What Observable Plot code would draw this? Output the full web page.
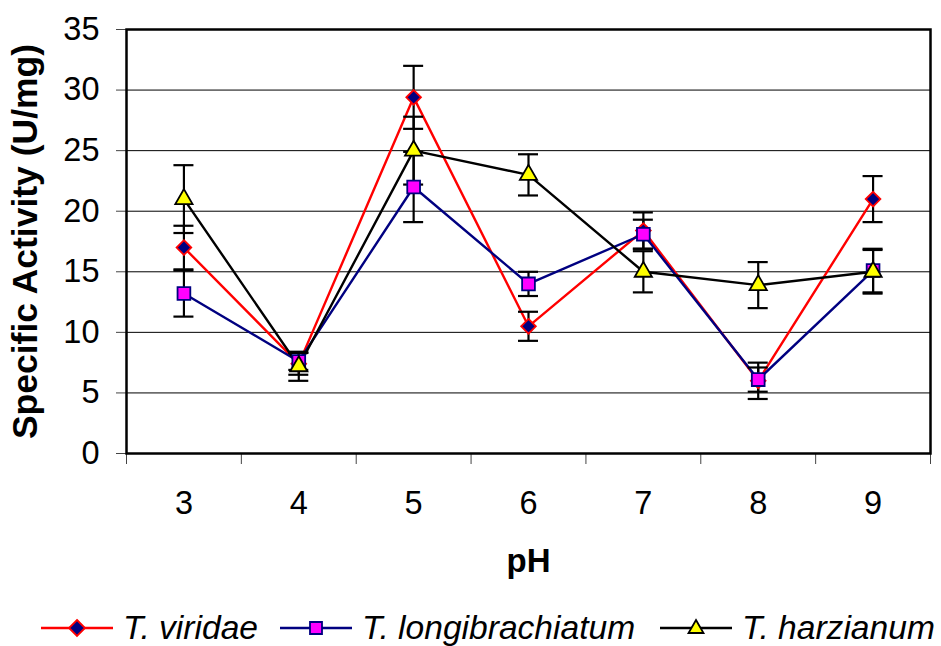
<!DOCTYPE html>
<html>
<head>
<meta charset="utf-8">
<script src="https://cdn.jsdelivr.net/npm/d3@7"></script>
<script src="https://cdn.jsdelivr.net/npm/@observablehq/plot@0.6"></script>
<style>
  html, body { margin: 0; padding: 0; background: #fff; }
  body { width: 941px; height: 646px; overflow: hidden; font-family: "Liberation Sans", Arial, sans-serif; }
  #chart svg { display: block; }
  #legend { position: relative; height: 46px; }
  .item { position: absolute; top: 8px; height: 40px; display: flex; align-items: center; }
  .item span { font-style: italic; font-size: 33.6px; color: #000; margin-left: 10px; white-space: nowrap; }
</style>
</head>
<body>
<div id="chart"></div>
<div id="legend"></div>
<script>
// ---- data ----
const phs = [3, 4, 5, 6, 7, 8, 9];
const yTicks = [0, 5, 10, 15, 20, 25, 30, 35];

const viridae    = [17.0, 7.4, 29.4, 10.5, 18.4, 6.0, 21.0];
const viridaeErr = [1.8, 0.9, 2.6, 1.2, 1.5, 1.5, 1.9];

const longi    = [13.2, 7.6, 22.0, 14.0, 18.1, 6.1, 15.1];
const longiErr = [1.9, 0.7, 2.9, 1.0, 1.2, 1.0, 1.8];

const harz    = [21.0, 7.2, 25.0, 23.0, 15.0, 13.9, 15.0];
const harzErr = [2.8, 1.2, 2.8, 1.7, 1.7, 1.9, 1.8];

const seriesNames = ["T. viridae", "T. longibrachiatum", "T. harzianum"];

// ---- styles ----
const styles = [
  {values: viridae, err: viridaeErr, line: "#ff0000", fill: "#000080", mstroke: "#ff0000", symbol: "diamond2", r: 6.6},
  {values: longi,   err: longiErr,   line: "#000080", fill: "#ff00ff", mstroke: "#000080", symbol: "square",   r: 7.2},
  {values: harz,    err: harzErr,    line: "#000000", fill: "#ffff00", mstroke: "#000000", symbol: "triangle", r: 6.4}
];

const bounds = phs.map(p => p - 0.5).concat([phs[phs.length - 1] + 0.5]);

const seriesRows = styles.map((s, k) =>
  phs.map((ph, i) => ({series: seriesNames[k], ph, v: s.values[i], e: s.err[i]}))
);

const marks = [
  Plot.ruleY(yTicks.slice(1, -1), {stroke: "#000", strokeWidth: 1}),
  Plot.axisY({ticks: yTicks, tickSize: 10, tickPadding: 17, fontSize: 32.5, label: null, stroke: "#444", tickFormat: d => String(d)}),
  Plot.axisX({ticks: phs, tickSize: 0, tickPadding: 37, fontSize: 32.5, label: null, tickFormat: d => String(d)}),
  Plot.axisX({ticks: bounds, tickSize: 11, tickFormat: () => "", label: null, stroke: "#444"})
];

// lines
seriesRows.forEach((rows, k) => {
  marks.push(Plot.lineY(rows, {x: "ph", y: "v", stroke: styles[k].line, strokeWidth: 2.4}));
});
// error bars
seriesRows.forEach((rows) => {
  marks.push(Plot.ruleX(rows, {x: "ph", y1: d => d.v - d.e, y2: d => d.v + d.e, stroke: "#000", strokeWidth: 2.2}));
  marks.push(Plot.ruleY(rows, {x1: "ph", x2: "ph", y: d => d.v + d.e, insetLeft: -10, insetRight: -10, stroke: "#000", strokeWidth: 2.2}));
  marks.push(Plot.ruleY(rows, {x1: "ph", x2: "ph", y: d => d.v - d.e, insetLeft: -10, insetRight: -10, stroke: "#000", strokeWidth: 2.2}));
});
// markers
seriesRows.forEach((rows, k) => {
  const s = styles[k];
  marks.push(Plot.dot(rows, {x: "ph", y: "v", symbol: s.symbol, r: s.r, fill: s.fill, stroke: s.mstroke, strokeWidth: 1.8}));
});

marks.push(Plot.frame({stroke: "#000", strokeWidth: 2.5}));
marks.push(Plot.text(["Specific Activity (U/mg)"], {text: d => d, frameAnchor: "left", dx: -101, rotate: -90, fontSize: 35.5, fontWeight: "bold", textAnchor: "middle", lineAnchor: "middle", fill: "#000"}));
marks.push(Plot.text(["pH"], {text: d => d, frameAnchor: "bottom", dy: 108, fontSize: 33, fontWeight: "bold", textAnchor: "middle", lineAnchor: "middle", fill: "#000"}));

const chart = Plot.plot({
  width: 941,
  height: 600,
  marginLeft: 126,
  marginRight: 11,
  marginTop: 29,
  marginBottom: 147,
  style: {fontFamily: "'Liberation Sans', Arial, sans-serif", background: "#fff", color: "#000", overflow: "visible"},
  x: {type: "linear", domain: [bounds[0], bounds[bounds.length - 1]], axis: null},
  y: {domain: [0, 35], axis: null},
  marks
});
document.getElementById("chart").appendChild(chart);

// ---- legend ----
const legendPos = [41, 280, 660];
const symPaths = {
  "diamond2": "M0,-8L8,0L0,8L-8,0Z",
  "square": "M-6,-6H6V6H-6Z",
  "triangle": "M0,-8L7.5,5H-7.5Z"
};
const legend = document.getElementById("legend");
styles.forEach((s, k) => {
  const div = document.createElement("div");
  div.className = "item";
  div.style.left = legendPos[k] + "px";
  div.innerHTML =
    `<svg width="72" height="24" viewBox="-36 -12 72 24">
       <line x1="-36" x2="36" y1="0" y2="0" stroke="${s.line}" stroke-width="2.5"/>
       <path d="${symPaths[s.symbol]}" fill="${s.fill}" stroke="${s.mstroke}" stroke-width="1.8"/>
     </svg><span>${seriesNames[k]}</span>`;
  legend.appendChild(div);
});
</script>
</body>
</html>
